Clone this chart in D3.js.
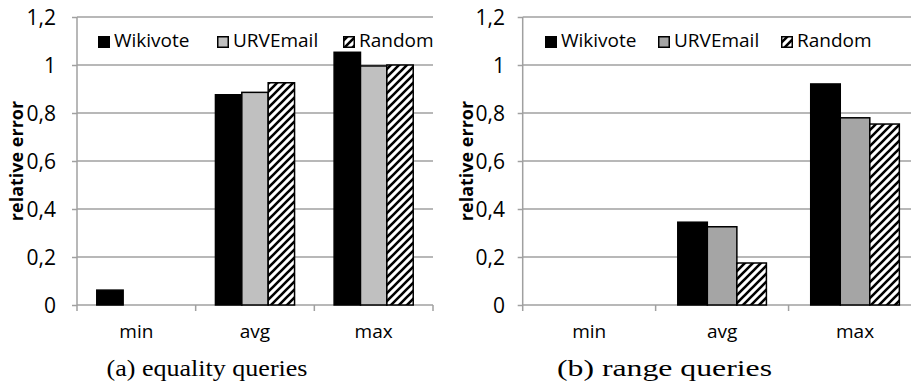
<!DOCTYPE html>
<html lang="en">
<head>
  <meta charset="UTF-8">
  <title>Relative error</title>
  <script src="https://d3js.org/d3.v7.min.js"></script>
  <style>
    body { margin: 0; background: #fff; }
    svg { display: block; }
    text { font-family: "Open Sans", "Noto Sans", sans-serif; fill: #000; }
    .caption { font-family: "Liberation Serif", "DejaVu Serif", serif; }
  </style>
</head>
<body>
  <div id="chart"></div>
  <script>
    const categories = ["min", "avg", "max"];
    const seriesNames = ["Wikivote", "URVEmail", "Random"];
    const yTicks = [0, 0.2, 0.4, 0.6, 0.8, 1, 1.2];

    // (a) equality queries
    const eqWikivote = [0.062, 0.876, 1.053];
    const eqURVEmail = [0, 0.886, 0.996];
    const eqRandom = [0, 0.926, 1.0];

    // (b) range queries
    const rgWikivote = [0, 0.345, 0.921];
    const rgURVEmail = [0, 0.326, 0.78];
    const rgRandom = [0, 0.175, 0.754];

    const width = 911, height = 383;

    const svg = d3.select("#chart").append("svg")
      .attr("width", width)
      .attr("height", height);

    const defs = svg.append("defs");
    const pat = defs.append("pattern")
      .attr("id", "hatch")
      .attr("patternUnits", "userSpaceOnUse")
      .attr("width", 8)
      .attr("height", 8);
    pat.append("rect").attr("width", 8).attr("height", 8).attr("fill", "#fff");
    pat.append("path")
      .attr("d", "M-2,2 L2,-2 M0,8 L8,0 M6,10 L10,6")
      .attr("stroke", "#000")
      .attr("stroke-width", 2.6);

    const panels = [
      { left: 77, right: 433, gray: "#c0c0c0", caption: "(a) equality queries", capX: 207, capLen: 201,
        values: [eqWikivote, eqURVEmail, eqRandom], labelX: 56, titleX: 23,
        legend: [98, 217, 343] },
      { left: 522.7, right: 921.5, gray: "#a5a5a5", caption: "(b) range queries", capX: 664.5, capLen: 215,
        values: [rgWikivote, rgURVEmail, rgRandom], labelX: 505, titleX: 473,
        legend: [545, 658, 781] }
    ];

    const y = d3.scaleLinear().domain([0, 1.2]).range([305, 17]);

    panels.forEach(p => {
      const g = svg.append("g");
      const fills = ["#000", p.gray, "url(#hatch)"];

      const x0 = d3.scaleBand().domain(categories).range([p.left, p.right]).padding(0);
      const x1 = d3.scaleBand().domain(seriesNames).range([0, x0.bandwidth()])
        .paddingInner(0).paddingOuter(0.75);

      // gridlines
      g.selectAll(".grid")
        .data(yTicks.filter(t => t > 0))
        .enter().append("line")
        .attr("x1", p.left).attr("x2", Math.min(p.right, width))
        .attr("y1", d => y(d)).attr("y2", d => y(d))
        .attr("stroke", "#a0a0a0")
        .attr("stroke-width", 1.5);

      // y axis
      const yAxis = d3.axisLeft(y).tickValues(yTicks)
        .tickSize(5).tickPadding(0)
        .tickFormat(d => String(d).replace(".", ","));
      const ya = g.append("g").attr("transform", `translate(${p.left},0)`).call(yAxis);
      ya.attr("font-size", null).attr("font-family", null);
      ya.select(".domain").attr("stroke", "#a0a0a0").attr("stroke-width", 1.5)
        .attr("d", `M0,${y(1.2)}V${y(0)}`);
      ya.selectAll(".tick line").attr("stroke", "#a0a0a0").attr("stroke-width", 1.5);
      ya.selectAll(".tick text")
        .attr("x", p.labelX - p.left)
        .attr("dy", "0.36em")
        .style("font-size", "21px");

      // x axis
      const xa = g.append("g").attr("transform", `translate(0,${y(0)})`)
        .call(d3.axisBottom(x0).tickSize(0).tickPadding(0));
      xa.attr("font-size", null).attr("font-family", null);
      xa.select(".domain").remove();
      xa.selectAll(".tick text")
        .attr("y", 20)
        .style("font-size", "19px");
      g.append("line")
        .attr("x1", p.left).attr("x2", Math.min(p.right, width))
        .attr("y1", y(0)).attr("y2", y(0))
        .attr("stroke", "#a0a0a0").attr("stroke-width", 1.5);
      g.selectAll(".xtick")
        .data(categories.map(c => x0(c)).concat([p.right]))
        .enter().append("line")
        .attr("x1", d => d).attr("x2", d => d)
        .attr("y1", y(0)).attr("y2", y(0) + 6)
        .attr("stroke", "#a0a0a0").attr("stroke-width", 1.5);

      // bars
      seriesNames.forEach((s, si) => {
        g.selectAll(".bar-" + si)
          .data(categories.map((c, ci) => ({ c, v: p.values[si][ci] })).filter(d => d.v > 0))
          .enter().append("rect")
          .attr("x", d => x0(d.c) + x1(s))
          .attr("y", d => y(d.v))
          .attr("width", x1.bandwidth())
          .attr("height", d => y(0) - y(d.v))
          .attr("fill", fills[si])
          .attr("stroke", "#000")
          .attr("stroke-width", 1.5);
      });

      // axis title
      g.append("text")
        .attr("transform", `translate(${p.titleX},161) rotate(-90)`)
        .attr("text-anchor", "middle")
        .style("font-size", "18px")
        .style("font-weight", "bold")
        .text("relative error");

      // legend
      seriesNames.forEach((s, si) => {
        const lx = p.legend[si];
        g.append("rect")
          .attr("x", lx + 0.75).attr("y", 36.75)
          .attr("width", 10.5).attr("height", 10.5)
          .attr("fill", fills[si])
          .attr("stroke", "#000").attr("stroke-width", 1.5);
        g.append("text")
          .attr("x", lx + 16).attr("y", 47)
          .style("font-size", "19px")
          .text(s);
      });

      // caption
      g.append("text")
        .attr("class", "caption")
        .attr("x", p.capX).attr("y", 376)
        .attr("text-anchor", "middle")
        .attr("textLength", p.capLen)
        .attr("lengthAdjust", "spacingAndGlyphs")
        .style("font-size", "24px")
        .text(p.caption);
    });
  </script>
</body>
</html>
